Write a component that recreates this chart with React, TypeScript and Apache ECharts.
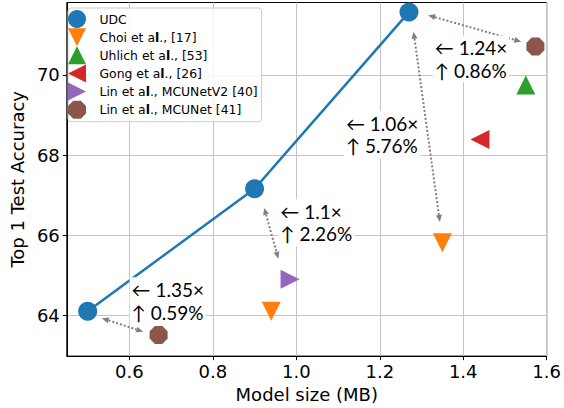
import React, { useEffect, useRef } from "react";
import * as echarts from "echarts";

// ---- data ----
const udcSize = [0.5, 0.9, 1.27];
const udcAcc = [64.1, 67.16, 71.57];
const choiPts = [[0.94, 64.1], [1.35, 65.81]];
const uhlichPts = [[1.55, 69.75]];
const gongPts = [[1.44, 68.39]];
const mcunetV2Pts = [[0.985, 64.9]];
const mcunetPts = [[0.67, 63.51], [1.573, 70.71]];

const seriesNames = [
  "UDC",
  "Choi et al., [17]",
  "Uhlich et al., [53]",
  "Gong et al., [26]",
  "Lin et al., MCUNetV2 [40]",
  "Lin et al., MCUNet [41]",
];

const xTicks = [0.6, 0.8, 1.0, 1.2, 1.4, 1.6];
const yTicks = [64, 66, 68, 70];

// annotation arrows: [x1, y1, x2, y2] (data units)
const arrowPts = [
  [0.534, 63.926, 0.633, 63.59],
  [0.923, 66.68, 0.957, 65.41],
  [1.281, 71.08, 1.344, 66.33],
  [1.316, 71.49, 1.539, 70.83],
];
// annotation text anchors: [x, y] (left-middle of text block)
const annPts = [
  [0.6005, 64.36],
  [0.957, 66.31],
  [1.114, 68.51],
  [1.327, 70.4],
];
const annTexts = [
  "← 1.35×\n↑ 0.59%",
  "← 1.1×\n↑ 2.26%",
  "← 1.06×\n↑ 5.76%",
  "← 1.24×\n↑ 0.86%",
];

const C = {
  blue: "#1f77b4",
  orange: "#ff7f0e",
  green: "#2ca02c",
  red: "#d62728",
  purple: "#9467bd",
  brown: "#8c564b",
};

const SYM = {
  down: "path://M0,0 L2,0 L1,2 Z",
  up: "path://M1,0 L2,2 L0,2 Z",
  left: "path://M0,1 L2,0 L2,2 Z",
  right: "path://M0,0 L2,1 L0,2 Z",
  oct: "path://M96.2,69.1 L69.1,96.2 L30.9,96.2 L3.8,69.1 L3.8,30.9 L30.9,3.8 L69.1,3.8 L96.2,30.9 Z",
};

const FONT = "DejaVu Sans";

export default function App() {
  const ref = useRef<HTMLDivElement>(null);
  useEffect(() => {
    document.body.style.margin = "0";
    const chart = echarts.init(ref.current!, undefined, { renderer: "svg" });
    const udcPts = udcSize.map((x, i) => [x, udcAcc[i]]);
    const scatter = (name: string, data: number[][], symbol: string, color: string, size: number) => ({
      type: "scatter",
      name,
      data,
      symbol,
      symbolSize: size,
      itemStyle: { color, opacity: 1 },
      z: 5,
    });
    chart.setOption({
      animation: false,
      grid: {
        left: 62.5,
        right: 16,
        top: 2.5,
        bottom: 47.5,
        show: true,
        borderColor: "#000",
        borderWidth: 1,
        backgroundColor: "transparent",
      },
      xAxis: {
        type: "value",
        min: 0.45,
        max: 1.6,
        name: "Model size (MB)",
        nameLocation: "middle",
        nameGap: 24,
        nameTextStyle: { fontFamily: FONT, fontSize: 18, color: "#000" },
        axisLine: { show: true, lineStyle: { color: "#000", width: 1 } },
        axisTick: { show: true, length: 4, lineStyle: { color: "#000" }, customValues: xTicks },
        axisLabel: {
          fontFamily: FONT,
          fontSize: 18,
          color: "#000",
          margin: 6,
          customValues: xTicks,
          formatter: (v: number) => v.toFixed(1),
        },
        splitLine: { show: true, lineStyle: { color: "#c4c4c4", width: 1 } },
      },
      yAxis: {
        type: "value",
        min: 62.98,
        max: 71.81,
        name: "Top 1 Test Accuracy",
        nameLocation: "middle",
        nameGap: 36,
        nameTextStyle: { fontFamily: FONT, fontSize: 18, color: "#000" },
        axisLine: { show: true, lineStyle: { color: "#000", width: 1 } },
        axisTick: { show: true, length: 4, lineStyle: { color: "#000" }, customValues: yTicks },
        axisLabel: {
          fontFamily: FONT,
          fontSize: 18,
          color: "#000",
          margin: 7,
          customValues: yTicks,
          formatter: (v: number) => String(Math.round(v)),
        },
        splitLine: { show: true, lineStyle: { color: "#c4c4c4", width: 1 } },
      },
      legend: {
        orient: "vertical",
        left: 68,
        top: 8,
        padding: [2, 4, 3, 0],
        itemWidth: 35,
        itemHeight: 18,
        itemGap: 0.14,
        backgroundColor: "rgba(255,255,255,0.85)",
        borderColor: "#cccccc",
        borderWidth: 1,
        borderRadius: 3,
        textStyle: {
          fontFamily: FONT,
          fontSize: 12.4,
          color: "#000",
          rich: { b: { fontFamily: FONT, fontSize: 12.4, fontWeight: "bold", color: "#000" } },
        },
        formatter: (name: string) => name.replace(" al.", " a{b|l}."),
        data: seriesNames,
      },
      series: [
        {
          type: "line",
          name: "UDC-line",
          data: udcPts,
          symbol: "none",
          lineStyle: { color: C.blue, width: 2.5 },
          z: 4,
        },
        {
          type: "custom",
          name: "arrows",
          coordinateSystem: "cartesian2d",
          data: arrowPts,
          encode: { x: [0, 2], y: [1, 3] },
          clip: false,
          z: 3,
          renderItem: (params: any, api: any) => {
            const p1 = api.coord([api.value(0), api.value(1)]);
            const p2 = api.coord([api.value(2), api.value(3)]);
            const dx = p2[0] - p1[0];
            const dy = p2[1] - p1[1];
            const len = Math.hypot(dx, dy);
            const ux = dx / len;
            const uy = dy / len;
            const px = -uy;
            const py = ux;
            const L = 7;
            const W = 3;
            const a = [p1[0] + ux * L, p1[1] + uy * L];
            const b = [p2[0] - ux * L, p2[1] - uy * L];
            const col = "#808080";
            return {
              type: "group",
              children: [
                {
                  type: "line",
                  shape: { x1: a[0], y1: a[1], x2: b[0], y2: b[1] },
                  style: { stroke: col, lineWidth: 2, lineDash: [2, 2] },
                },
                {
                  type: "polygon",
                  shape: { points: [p1, [a[0] + px * W, a[1] + py * W], [a[0] - px * W, a[1] - py * W]] },
                  style: { fill: col },
                },
                {
                  type: "polygon",
                  shape: { points: [p2, [b[0] + px * W, b[1] + py * W], [b[0] - px * W, b[1] - py * W]] },
                  style: { fill: col },
                },
              ],
            };
          },
        },
        {
          type: "custom",
          name: "annotations",
          coordinateSystem: "cartesian2d",
          data: annPts,
          encode: { x: 0, y: 1 },
          clip: false,
          z: 6,
          renderItem: (params: any, api: any) => {
            const p = api.coord([api.value(0), api.value(1)]);
            return {
              type: "text",
              x: p[0],
              y: p[1],
              style: {
                text: annTexts[params.dataIndex],
                fontFamily: "Lato",
                fontSize: 19,
                fill: "#000",
                lineHeight: 22.5,
                align: "left",
                verticalAlign: "middle",
                backgroundColor: "#fff",
                padding: [1, 2, 1, 2],
              },
            };
          },
        },
        scatter(seriesNames[0], udcPts, "circle", C.blue, 19),
        scatter(seriesNames[1], choiPts, SYM.down, C.orange, 19),
        scatter(seriesNames[2], uhlichPts, SYM.up, C.green, 19),
        scatter(seriesNames[3], gongPts, SYM.left, C.red, 19),
        scatter(seriesNames[4], mcunetV2Pts, SYM.right, C.purple, 19),
        scatter(seriesNames[5], mcunetPts, SYM.oct, C.brown, 18),
      ],
    });
    return () => chart.dispose();
  }, []);
  return (
    <div
      ref={ref}
      style={{ position: "absolute", left: 0, top: 0, width: 564, height: 408 }}
    />
  );
}
